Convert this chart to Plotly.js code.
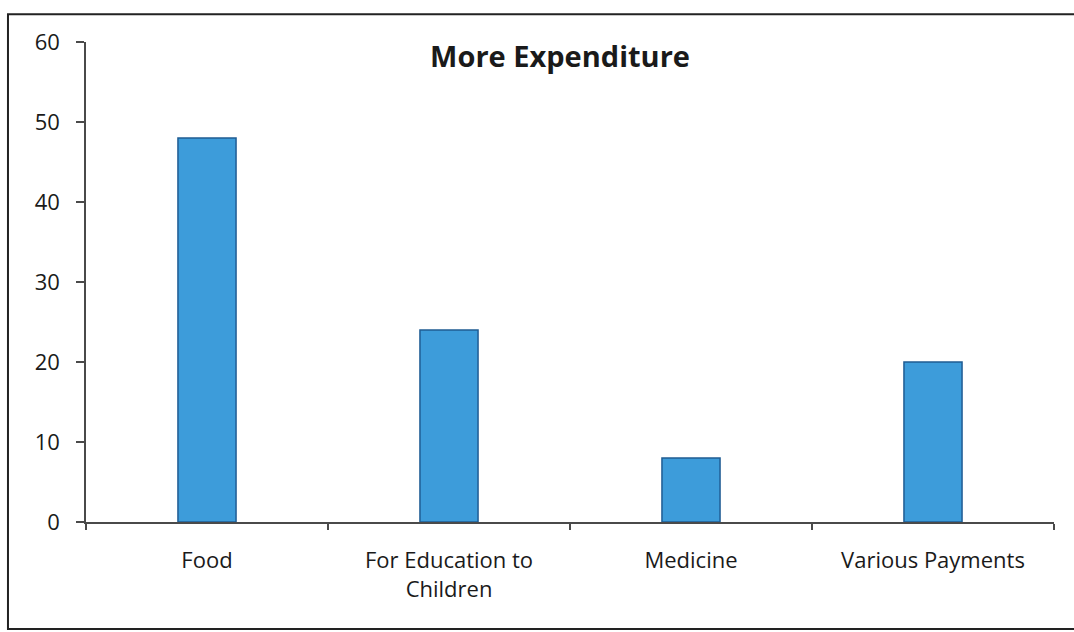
<!DOCTYPE html>
<html>
<head>
<meta charset="utf-8">
<script src="https://cdn.plot.ly/plotly-3.0.1.min.js"></script>
<style>
  html, body { margin: 0; padding: 0; background: #ffffff; }
  #chart { width: 1074px; height: 632px; }
</style>
</head>
<body>
<div id="chart"></div>
<script>
// Spending categories and their share
const categories = ["Food", "For Education to<br>Children", "Medicine", "Various Payments"];
const values = [48, 24, 8, 20];
const yTicks = [0, 10, 20, 30, 40, 50, 60];

const trace = {
  type: "bar",
  x: categories,
  y: values,
  marker: {
    color: "#3d9cda",
    line: { color: "#1f5c93", width: 1.5 }
  },
  hoverinfo: "x+y"
};

const layout = {
  width: 1074,
  height: 632,
  margin: { l: 86, r: 20, t: 42, b: 110 },
  paper_bgcolor: "#ffffff",
  plot_bgcolor: "#ffffff",
  font: { family: "'Open Sans', 'Noto Sans', sans-serif", size: 22, color: "#1a1a1a" },
  bargap: 0.76,
  showlegend: false,
  title: {
    text: "<b>More Expenditure</b>",
    font: { size: 29, color: "#1a1a1a" },
    x: 0.4897, xref: "paper", xanchor: "center",
    y: 0.969, yref: "paper", yanchor: "middle"
  },
  xaxis: {
    type: "category",
    showline: true,
    linecolor: "#4a4a4a",
    linewidth: 1.5,
    ticks: "outside",
    tickson: "boundaries",
    ticklen: 6,
    tickcolor: "#4a4a4a",
    tickwidth: 1.5,
    showgrid: false,
    zeroline: false,
    tickfont: { size: 22 },
    ticklabelstandoff: 18
  },
  yaxis: {
    range: [0, 60],
    tickvals: yTicks,
    ticktext: yTicks.map(String),
    showline: true,
    linecolor: "#4a4a4a",
    linewidth: 1.5,
    ticks: "outside",
    ticklen: 8,
    tickcolor: "#4a4a4a",
    tickwidth: 1.5,
    showgrid: false,
    zeroline: false,
    tickfont: { size: 22 },
    ticklabelstandoff: 12
  },
  shapes: [{
    type: "rect",
    xref: "paper", yref: "paper",
    x0: -0.0806, x1: 1.027,
    y0: -0.223, y1: 1.058,
    line: { color: "#222222", width: 2 },
    fillcolor: "rgba(0,0,0,0)",
    layer: "below"
  }]
};

Plotly.newPlot("chart", [trace], layout, { displayModeBar: false, responsive: false });
</script>
</body>
</html>
